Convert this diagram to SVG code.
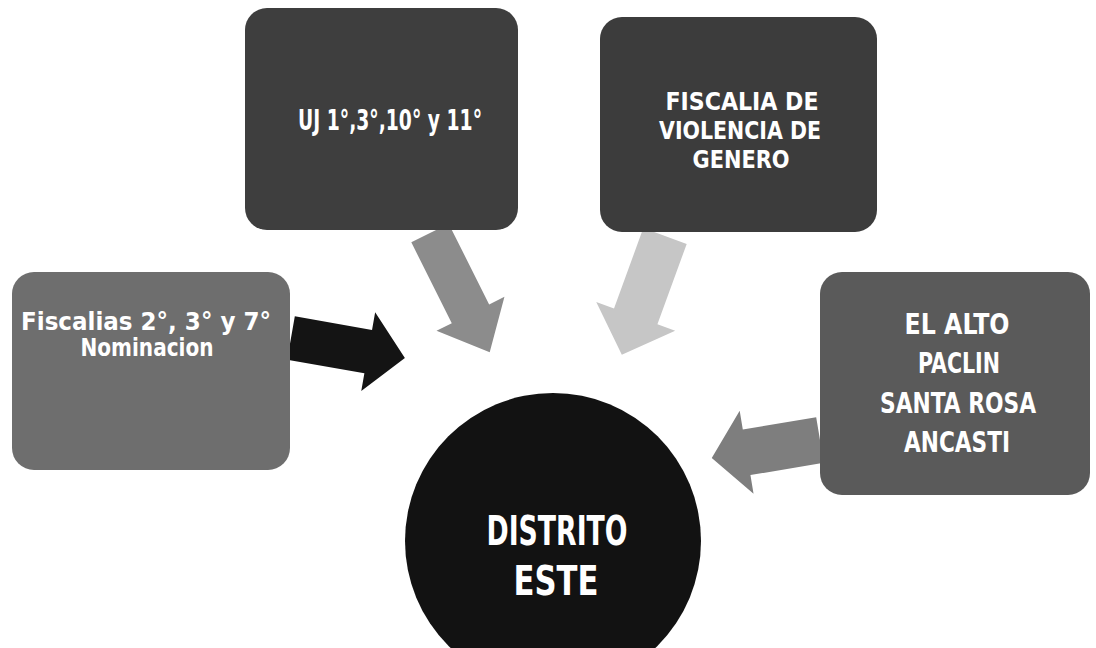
<svg xmlns="http://www.w3.org/2000/svg" width="1096" height="648" viewBox="0 0 1096 648">
<style>
.lbl{font-family:"Liberation Sans Narrow","DejaVu Sans Condensed","Liberation Sans",sans-serif;font-weight:bold;fill:#ffffff;text-anchor:middle;font-size:28px}
.md{font-size:25px}
.sm{font-size:24px}
.big{font-size:40px}
</style>
<defs>
<path id="arr" d="M0,-22 L80,-22 L80,-40 L118,0 L80,40 L80,22 L0,22 Z"/>
</defs>
<rect width="1096" height="648" fill="#ffffff"/>
<g id="connectors">
<use href="#arr" fill="#141414" transform="translate(291,338) rotate(10) scale(0.98,1)"/>
<use href="#arr" fill="#8c8c8c" transform="translate(430,233) rotate(63.4) scale(1.13,0.95)"/>
<use href="#arr" fill="#c6c6c6" transform="translate(665,236) rotate(110) scale(1.07,1.05)"/>
<use href="#arr" fill="#7e7e7e" transform="translate(820,440) rotate(170.5) scale(0.93,1.05)"/>
</g>
<g id="node-uj">
<rect x="245" y="8" width="273" height="222" rx="22" fill="#3e3e3e"/>
<text class="lbl" x="390" y="130" textLength="184" lengthAdjust="spacingAndGlyphs">UJ 1°,3°,10° y 11°</text>
</g>
<g id="node-fiscalia-genero">
<rect x="600" y="17" width="277" height="215" rx="22" fill="#3c3c3c"/>
<text class="lbl md" x="742" y="110" textLength="153" lengthAdjust="spacingAndGlyphs">FISCALIA DE</text>
<text class="lbl md" x="740" y="139" textLength="162" lengthAdjust="spacingAndGlyphs">VIOLENCIA DE</text>
<text class="lbl md" x="741" y="168" textLength="97" lengthAdjust="spacingAndGlyphs">GENERO</text>
</g>
<g id="node-fiscalias">
<rect x="12" y="272" width="278" height="198" rx="22" fill="#6e6e6e"/>
<text class="lbl sm" x="146" y="330" textLength="250" lengthAdjust="spacingAndGlyphs">Fiscalias 2°, 3° y 7°</text>
<text class="lbl sm" x="147" y="356" textLength="133" lengthAdjust="spacingAndGlyphs">Nominacion</text>
</g>
<g id="node-el-alto">
<rect x="820" y="272" width="270" height="223" rx="22" fill="#5a5a5a"/>
<text class="lbl" x="957" y="334" textLength="105" lengthAdjust="spacingAndGlyphs">EL ALTO</text>
<text class="lbl" x="959" y="373" textLength="82" lengthAdjust="spacingAndGlyphs">PACLIN</text>
<text class="lbl" x="958" y="413" textLength="156" lengthAdjust="spacingAndGlyphs">SANTA ROSA</text>
<text class="lbl" x="957" y="452" textLength="106" lengthAdjust="spacingAndGlyphs">ANCASTI</text>
</g>
<g id="node-distrito">
<circle cx="553" cy="541" r="148" fill="#121212"/>
<text class="lbl big" x="557" y="545" textLength="141" lengthAdjust="spacingAndGlyphs">DISTRITO</text>
<text class="lbl big" x="556" y="595" textLength="85" lengthAdjust="spacingAndGlyphs">ESTE</text>
</g>
</svg>
